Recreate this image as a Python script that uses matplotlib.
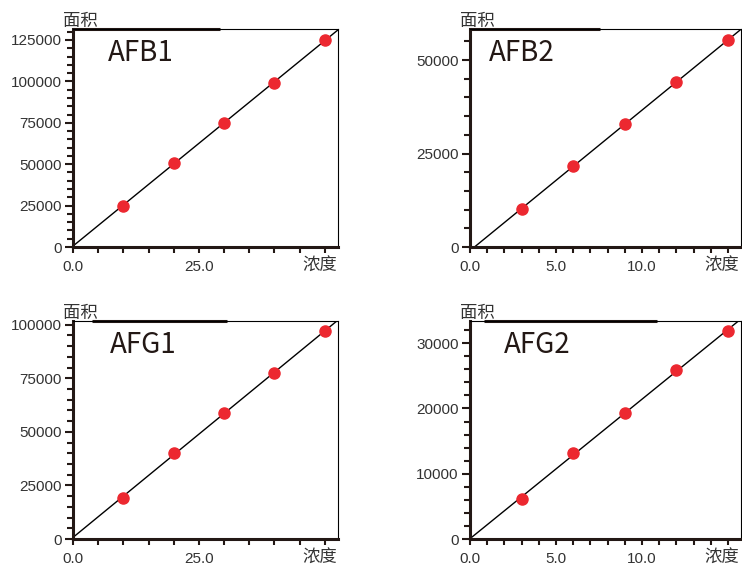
import numpy as np
import matplotlib.pyplot as plt
from matplotlib.ticker import MultipleLocator, FixedLocator, FormatStrFormatter

plt.rcParams['font.family'] = ['Liberation Sans', 'Noto Sans CJK SC']

# data
names = ['AFB1', 'AFB2', 'AFG1', 'AFG2']
conc_b1 = [10, 20, 30, 40, 50]
area_b1 = [25000, 51000, 75000, 99000, 125000]
conc_b2 = [3, 6, 9, 12, 15]
area_b2 = [10200, 21700, 32800, 44200, 55300]
conc_g1 = [10, 20, 30, 40, 50]
area_g1 = [19300, 40100, 58900, 77600, 96900]
conc_g2 = [3, 6, 9, 12, 15]
area_g2 = [6170, 13170, 19300, 25900, 31850]

xs = [conc_b1, conc_b2, conc_g1, conc_g2]
ys = [area_b1, area_b2, area_g1, area_g2]
xlims = [52.6, 15.75, 52.6, 15.75]
ylims = [131600, 58300, 101700, 33400]
x_ticks = [[0, 25], [0, 5, 10], [0, 25], [0, 5, 10]]
x_minor = [5, 1, 5, 1]
y_major = [25000, 25000, 25000, 10000]
y_minor = [5000, 5000, 5000, 2000]

# layout (figure fractions)
rects = [
    [0.0984, 0.562, 0.357, 0.3865],
    [0.6334, 0.562, 0.365, 0.3865],
    [0.0984, 0.0443, 0.357, 0.3865],
    [0.6334, 0.0443, 0.365, 0.3865],
]
title_x = [0.13, 0.07, 0.14, 0.125]
top_bar = [(0.0, 0.555), (0.0, 0.48), (0.07, 0.58), (0.05, 0.69)]

fig = plt.figure(figsize=(7.42, 5.64), dpi=100)

for i in range(4):
    ax = fig.add_axes(rects[i])
    x = np.array(xs[i])
    y = np.array(ys[i])

    # linear fit
    k, b = np.polyfit(x, y, 1)
    xx = np.array([0, xlims[i]])
    ax.plot(xx, k * xx + b, color='black', lw=1.0, zorder=2)
    ax.plot(x, y, 'o', color='#ec2830', ms=8, zorder=3)

    ax.set_xlim(0, xlims[i])
    ax.set_ylim(0, ylims[i])
    ax.xaxis.set_major_locator(FixedLocator(x_ticks[i]))
    ax.xaxis.set_minor_locator(MultipleLocator(x_minor[i]))
    ax.xaxis.set_major_formatter(FormatStrFormatter('%.1f'))
    ax.yaxis.set_major_locator(MultipleLocator(y_major[i]))
    ax.yaxis.set_minor_locator(MultipleLocator(y_minor[i]))

    for s in ['top', 'right']:
        ax.spines[s].set_linewidth(0.8)
    for s in ['left', 'bottom']:
        ax.spines[s].set_linewidth(2.2)
        ax.spines[s].set_color('#231815')

    ax.tick_params(axis='y', which='major', direction='out', length=6, width=1.5,
                   pad=2, labelsize=11, labelcolor='#333333', color='#231815')
    ax.tick_params(axis='y', which='minor', direction='out', length=4, width=1.5,
                   color='#231815')
    ax.tick_params(axis='x', which='major', direction='out', length=4, width=1.5,
                   pad=5, labelsize=11, labelcolor='#333333', color='#231815')
    ax.tick_params(axis='x', which='minor', direction='out', length=4, width=1.5,
                   color='#231815')

    # thick bar on top edge as in the original
    ax.plot(top_bar[i], [1, 1], color='#231815', lw=2.2, transform=ax.transAxes,
            clip_on=False, solid_capstyle='butt')

    ax.text(title_x[i], 0.89, names[i], transform=ax.transAxes, fontsize=20,
            va='center', ha='left', color='#231815', family=['Noto Sans CJK SC'],
            fontweight='light')
    ax.text(0.028, 0.995, '面积', transform=ax.transAxes, fontsize=12.5,
            ha='center', va='bottom', color='#333333', family=['Noto Sans CJK SC'])
    ax.text(0.93, -0.045, '浓度', transform=ax.transAxes, fontsize=12.5,
            ha='center', va='top', color='#333333', family=['Noto Sans CJK SC'])

fig.savefig('out.png', dpi=100)
